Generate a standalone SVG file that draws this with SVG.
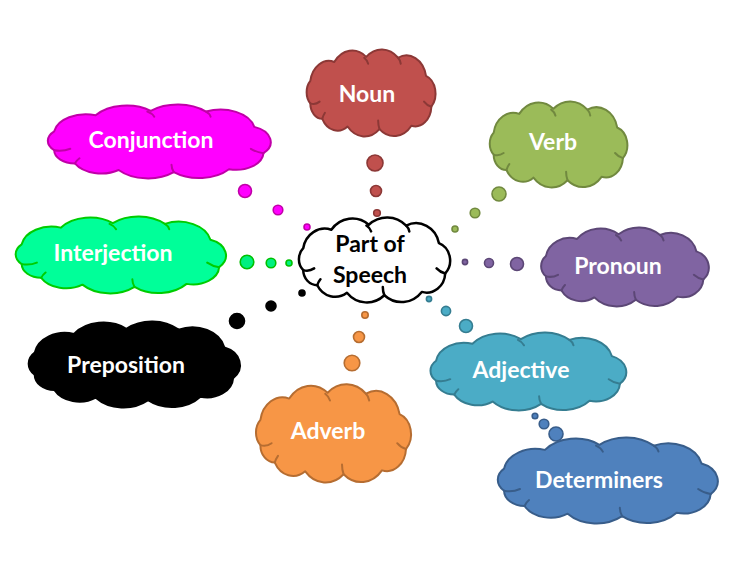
<svg xmlns="http://www.w3.org/2000/svg" xmlns:xlink="http://www.w3.org/1999/xlink" width="750" height="570" viewBox="0 0 750 570">
<defs>
<style>
.lbl{font-family:Lato,"Liberation Sans",sans-serif;font-weight:bold;font-size:23px;fill:#fff;text-anchor:middle}
.dark{fill:#000}
.ol{vector-effect:non-scaling-stroke;stroke-linejoin:round}
.cr{vector-effect:non-scaling-stroke;fill:none;stroke-linecap:round}
.b{stroke-width:1.6}
</style>
<g id="cloud">
<path class="ol" d="M8,36 A28,28 0 0 1 44,14 A34,34 0 0 1 92,8 A36,36 0 0 1 140,9 A30,30 0 0 1 182,30 A22,22 0 0 1 190,66 A24,24 0 0 1 160,88 A34,34 0 0 1 112,92 A34,34 0 0 1 64,89 A26,26 0 0 1 26,80 A18,18 0 0 1 8,62 A18,18 0 0 1 8,36 Z"/>
<path class="cr" d="M8,62 A18,18 0 0 0 22,60 M89,9 A14,14 0 0 1 95,16 M140,9 A12,12 0 0 1 144,16 M190,66 A22,22 0 0 1 179,60 M112,92 A26,26 0 0 1 110,82 M26,80 A20,20 0 0 1 30,73"/>
</g>
</defs>
<rect width="750" height="570" fill="#fff"/>

<g id="connectors">
<g fill="#C0504D" stroke="#8C3836" class="b">
<circle cx="375" cy="163" r="8"/><circle cx="376" cy="191" r="5.5"/><circle cx="377" cy="213" r="3.3"/>
</g>
<g fill="#FF00FF" stroke="#C000A8" class="b">
<circle cx="245" cy="191" r="6.5"/><circle cx="278" cy="210" r="4.8"/><circle cx="307" cy="227" r="3"/>
</g>
<g fill="#00F080" stroke="#00C000" class="b">
<circle cx="247" cy="262" r="6.8"/><circle cx="271" cy="263" r="4.8"/><circle cx="289" cy="263" r="3"/>
</g>
<g fill="#000" stroke="#000" class="b">
<circle cx="237" cy="321" r="7.5"/><circle cx="271" cy="306" r="5"/><circle cx="302" cy="293" r="3"/>
</g>
<g fill="#9BBB59" stroke="#71893F" class="b">
<circle cx="499" cy="194" r="7"/><circle cx="475" cy="213" r="4.8"/><circle cx="455" cy="229" r="3"/>
</g>
<g fill="#8064A2" stroke="#5C4776" class="b">
<circle cx="517" cy="264" r="6.5"/><circle cx="489" cy="263" r="4.5"/><circle cx="465" cy="262" r="2.6"/>
</g>
<g fill="#4BACC6" stroke="#357D91" class="b">
<circle cx="466" cy="326" r="6.5"/><circle cx="446" cy="311" r="4.6"/><circle cx="429" cy="299" r="2.6"/>
</g>
<g fill="#F79646" stroke="#B66D31" class="b">
<circle cx="352" cy="363" r="7.8"/><circle cx="359" cy="337" r="5.5"/><circle cx="365" cy="315" r="3.2"/>
</g>
<g fill="#4F81BD" stroke="#385D8A" class="b">
<circle cx="556" cy="434" r="7"/><circle cx="544" cy="424" r="4.8"/><circle cx="535" cy="416" r="2.8"/>
</g>
</g>

<g id="noun">
<use xlink:href="#cloud" href="#cloud" transform="translate(305,50) scale(0.665,0.86)" fill="#C0504D" stroke="#8C3836" stroke-width="2"/>
<text class="lbl" x="367" y="102">Noun</text>
</g>
<g id="conjunction">
<use xlink:href="#cloud" href="#cloud" transform="translate(45,105) scale(1.15,0.73)" fill="#FF00FF" stroke="#C000A8" stroke-width="2"/>
<text class="lbl" x="151" y="148">Conjunction</text>
</g>
<g id="interjection">
<use xlink:href="#cloud" href="#cloud" transform="translate(13,217) scale(1.085,0.76)" fill="#00FF99" stroke="#00CC00" stroke-width="2"/>
<text class="lbl" x="113" y="261">Interjection</text>
</g>
<g id="preposition">
<use xlink:href="#cloud" href="#cloud" transform="translate(26,322) scale(1.09,0.85)" fill="#000" stroke="#000" stroke-width="2"/>
<text class="lbl" x="126" y="373">Preposition</text>
</g>
<g id="verb">
<use xlink:href="#cloud" href="#cloud" transform="translate(488,102) scale(0.71,0.85)" fill="#9BBB59" stroke="#71893F" stroke-width="2"/>
<text class="lbl" x="553" y="150">Verb</text>
</g>
<g id="pronoun">
<use xlink:href="#cloud" href="#cloud" transform="translate(539,228) scale(0.865,0.78)" fill="#8064A2" stroke="#5C4776" stroke-width="2"/>
<text class="lbl" x="618" y="274">Pronoun</text>
</g>
<g id="adjective">
<use xlink:href="#cloud" href="#cloud" transform="translate(428,333) scale(1.01,0.77)" fill="#4BACC6" stroke="#357D91" stroke-width="2"/>
<text class="lbl" x="521" y="378">Adjective</text>
</g>
<g id="adverb">
<use xlink:href="#cloud" href="#cloud" transform="translate(254,385) scale(0.8,0.97)" fill="#F79646" stroke="#B66D31" stroke-width="2"/>
<text class="lbl" x="328" y="439">Adverb</text>
</g>
<g id="determiners">
<use xlink:href="#cloud" href="#cloud" transform="translate(495,438) scale(1.135,0.85)" fill="#4F81BD" stroke="#385D8A" stroke-width="2"/>
<text class="lbl" x="599" y="488">Determiners</text>
</g>
<g id="part-of-speech">
<use xlink:href="#cloud" href="#cloud" transform="translate(297,218) scale(0.78,0.84)" fill="#fff" stroke="#000" stroke-width="2.5"/>
<text class="lbl dark" x="370" y="252">Part of</text>
<text class="lbl dark" x="370" y="283">Speech</text>
</g>
</svg>
